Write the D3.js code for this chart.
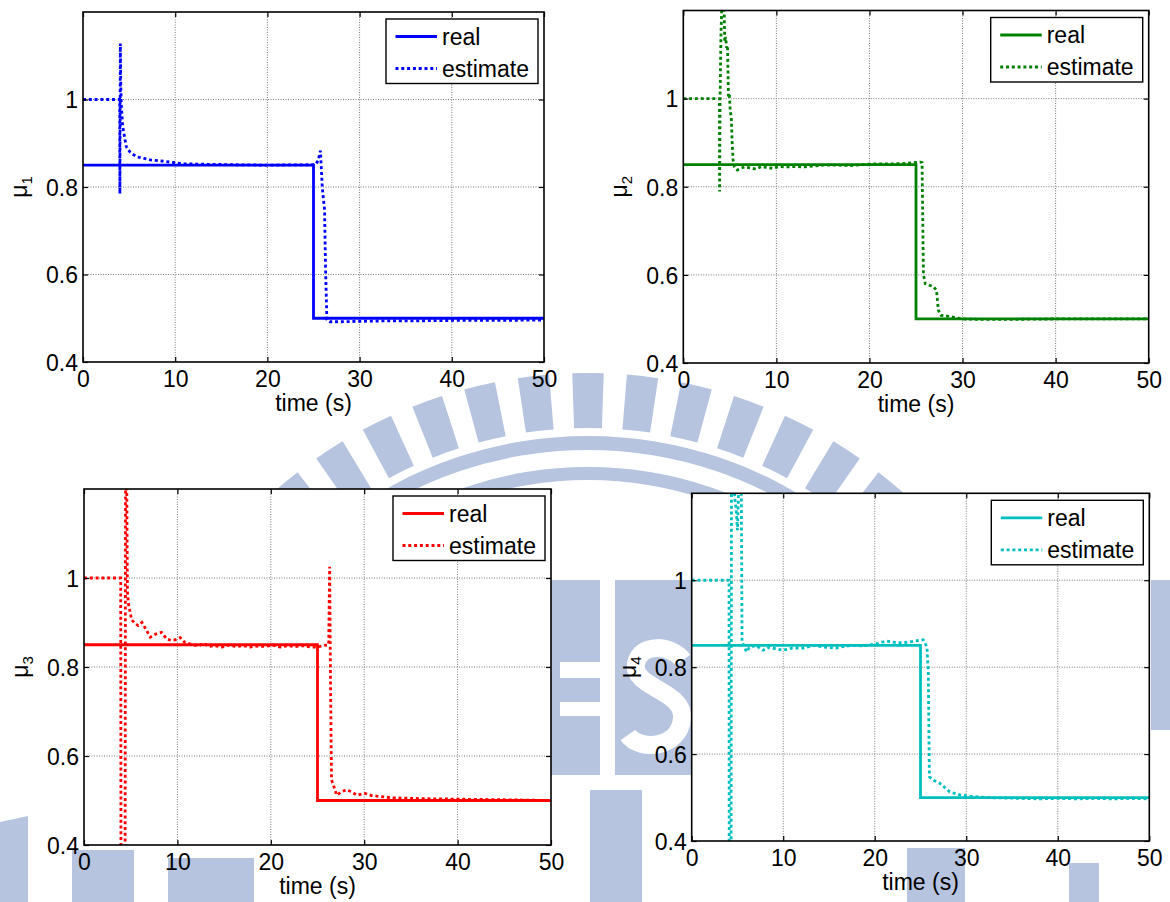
<!DOCTYPE html>
<html>
<head>
<meta charset="utf-8">
<script src="https://cdn.jsdelivr.net/npm/d3@7"></script>
<style>
  body { margin: 0; background: #fff; }
  svg { display: block; }
</style>
</head>
<body>
<svg id="fig" width="1170" height="902"></svg>
<script>
// ---- data -------------------------------------------------------------
const timeTicks = [0, 10, 20, 30, 40, 50];
const valueTicks = [0.4, 0.6, 0.8, 1];
const legendLabels = ["real", "estimate"];
const axisLabelX = "time (s)";

// true parameter: 0.85 until t = 25 s, then 0.5
const realTime  = [0, 25, 25, 50];
const realValue = [0.85, 0.85, 0.5, 0.5];

// estimated mu_1
const mu1Time = [0, 3.98, 4.0, 4.05, 4.1, 4.15, 4.3, 4.5, 4.7, 5.1, 5.4, 5.8, 6.5, 7.3, 8.3, 9.8, 11, 13, 16, 20, 25.2, 25.5, 25.75, 25.95, 26.05, 26.2, 26.3, 26.45, 26.8, 28, 30, 33, 36, 40, 45, 50];
const mu1Est  = [1, 1, 0.785, 1.128, 1.03, 0.99, 0.94, 0.915, 0.892, 0.88, 0.875, 0.869, 0.866, 0.862, 0.86, 0.856, 0.853, 0.852, 0.851, 0.85, 0.851, 0.86, 0.883, 0.8, 0.778, 0.748, 0.62, 0.497, 0.492, 0.492, 0.493, 0.494, 0.494, 0.495, 0.495, 0.496];

// estimated mu_2
const mu2Time = [0, 3.88, 3.9, 3.95, 4.05, 4.2, 4.35, 4.45, 4.55, 4.65, 4.75, 4.85, 4.95, 5.05, 5.15, 5.25, 5.35, 5.5, 5.8, 6.2, 6.6, 7.2, 7.8, 8.4, 9, 9.6, 10.3, 11, 12, 13, 14, 15, 16.5, 18, 19.5, 21, 22.5, 24, 25, 25.5, 25.65, 25.8, 26, 26.5, 26.9, 27.2, 27.4, 27.7, 28.5, 29.2, 30, 32, 35, 40, 45, 50];
const mu2Est  = [1, 1, 0.789, 1.0, 1.15, 1.25, 1.25, 1.13, 1.14, 1.115, 1.12, 1.005, 1.01, 0.97, 0.96, 0.9, 0.86, 0.845, 0.838, 0.842, 0.845, 0.843, 0.84, 0.846, 0.843, 0.842, 0.846, 0.845, 0.846, 0.845, 0.847, 0.849, 0.849, 0.848, 0.851, 0.852, 0.852, 0.853, 0.855, 0.856, 0.855, 0.6, 0.58, 0.576, 0.573, 0.565, 0.52, 0.508, 0.506, 0.503, 0.5, 0.499, 0.499, 0.5, 0.5, 0.5];

// estimated mu_3
const mu3Time = [0, 3.93, 3.96, 4.4, 4.45, 4.55, 4.65, 4.75, 5.1, 5.45, 5.8, 6.2, 6.7, 7.1, 7.5, 7.8, 8.3, 8.85, 9.3, 9.75, 10.3, 10.8, 11.5, 12.2, 12.8, 13.4, 14, 14.8, 15.5, 16.3, 17, 17.8, 18.6, 19.4, 20.2, 21, 21.8, 22.6, 23.4, 24.2, 25, 25.6, 26.2, 26.3, 26.4, 26.5, 26.7, 27.05, 27.6, 28.1, 28.6, 29.2, 30.1, 30.8, 31.3, 33, 36.6, 40.2, 43.7, 47, 50];
const mu3Est  = [1, 1, 0.3, 0.3, 1.3, 1.3, 0.97, 0.943, 0.906, 0.898, 0.893, 0.9, 0.882, 0.867, 0.872, 0.875, 0.878, 0.863, 0.86, 0.861, 0.866, 0.855, 0.851, 0.847, 0.853, 0.846, 0.848, 0.845, 0.849, 0.846, 0.848, 0.845, 0.847, 0.846, 0.849, 0.845, 0.848, 0.846, 0.848, 0.845, 0.845, 0.848, 0.85, 1.025, 0.75, 0.546, 0.535, 0.512, 0.52, 0.524, 0.52, 0.512, 0.516, 0.511, 0.51, 0.506, 0.504, 0.503, 0.502, 0.501, 0.5];

// estimated mu_4
const mu4Time = [0, 4.08, 4.1, 4.3, 4.35, 4.6, 4.7, 4.85, 5.0, 5.1, 5.2, 5.4, 5.5, 6.0, 6.3, 7.0, 7.5, 7.8, 8.5, 9.2, 10, 11, 12.2, 13.3, 14.5, 15.8, 16.7, 17.6, 18.5, 19.5, 20.4, 21.3, 22.2, 23.2, 24.3, 25.3, 25.7, 25.85, 25.97, 26.4, 27.1, 27.5, 28.2, 29.3, 30.4, 32, 34, 36, 38, 40, 42, 44, 46, 48, 50];
const mu4Est  = [1, 1, 0.3, 0.3, 1.3, 1.3, 1.19, 1.165, 1.115, 1.19, 1.3, 1.3, 0.858, 0.835, 0.845, 0.85, 0.843, 0.839, 0.846, 0.842, 0.839, 0.844, 0.844, 0.85, 0.846, 0.844, 0.848, 0.85, 0.849, 0.851, 0.855, 0.86, 0.857, 0.856, 0.86, 0.863, 0.847, 0.79, 0.548, 0.54, 0.533, 0.526, 0.513, 0.506, 0.503, 0.5, 0.499, 0.498, 0.497, 0.498, 0.497, 0.498, 0.497, 0.498, 0.497];

// ---- figure layout ----------------------------------------------------
const svg = d3.select("#fig");
const FONT = "Arial, 'Liberation Sans', sans-serif";
const FS = 23;
const DOTS = "3,2.8";

const panels = [
  { sub: "1", color: "#0000ff", time: mu1Time, est: mu1Est, box: { left: 83,    right: 544,    top: 12,    bottom: 362 } },
  { sub: "2", color: "#008000", time: mu2Time, est: mu2Est, box: { left: 683.3, right: 1148.7, top: 10.5,  bottom: 363 } },
  { sub: "3", color: "#ff0000", time: mu3Time, est: mu3Est, box: { left: 84,    right: 551,    top: 489,   bottom: 845 } },
  { sub: "4", color: "#00bfbf", time: mu4Time, est: mu4Est, box: { left: 691.7, right: 1149.3, top: 493.3, bottom: 841 } }
];

// ---- faint emblem in the page background --------------------------------
const emblem = svg.append("g").attr("fill", "#b6c4df");
const ecx = 588, ecy = 848;
const rayAngles = [-39.6, -33, -26.4, -19.8, -13.2, -6.6, 0, 6.6, 13.2, 19.8, 26.4, 33, 39.6];
const rad = Math.PI / 180;
const arcGen = d3.arc();
emblem.selectAll("path.ray").data(rayAngles).join("path")
  .attr("transform", `translate(${ecx},${ecy})`)
  .attr("d", a => arcGen({ innerRadius: 420, outerRadius: 475, startAngle: (a - 1.9) * rad, endAngle: (a + 1.9) * rad }));
[[398, 412], [368, 381]].forEach(([r0, r1]) => {
  emblem.append("path")
    .attr("transform", `translate(${ecx},${ecy})`)
    .attr("d", arcGen({ innerRadius: r0, outerRadius: r1, startAngle: -75 * rad, endAngle: 75 * rad }));
});
// letter blocks in the centre of the emblem
emblem.append("path").attr("d",
  "M548,580 H600 V775 H548 Z M560,662 H600 V678 H560 Z M560,702 H600 V716 H560 Z")
  .attr("fill-rule", "evenodd");
emblem.append("rect").attr("x", 615).attr("y", 580).attr("width", 90).attr("height", 195);
emblem.append("path")
  .attr("d", "M683,660 C672,645 640,642 636,664 C632,688 684,690 682,718 C680,748 640,752 628,735")
  .attr("fill", "none").attr("stroke", "#ffffff").attr("stroke-width", 18);
// lower parts of the emblem, seen below the plots
emblem.append("path").attr("d", "M0,822 L28,816 L28,902 L0,902 Z");
emblem.append("rect").attr("x", 72).attr("y", 850).attr("width", 62).attr("height", 52);
emblem.append("rect").attr("x", 168).attr("y", 858).attr("width", 86).attr("height", 44);
emblem.append("rect").attr("x", 590).attr("y", 790).attr("width", 52).attr("height", 112);
emblem.append("rect").attr("x", 907).attr("y", 848).attr("width", 58).attr("height", 54);
emblem.append("rect").attr("x", 1069).attr("y", 863).attr("width", 30).attr("height", 39);
emblem.append("rect").attr("x", 1151).attr("y", 580).attr("width", 19).attr("height", 150);

// ---- panels ---------------------------------------------------------------
panels.forEach((p, i) => {
  const b = p.box;
  const x = d3.scaleLinear().domain([0, 50]).range([b.left, b.right]);
  const y = d3.scaleLinear().domain([0.4, 1.2]).range([b.bottom, b.top]);
  const g = svg.append("g");

  // plot-area background
  g.append("rect")
    .attr("x", b.left).attr("y", b.top)
    .attr("width", b.right - b.left).attr("height", b.bottom - b.top)
    .attr("fill", "#fff");

  // grid
  g.append("g").selectAll("line").data(timeTicks.slice(1, -1)).join("line")
    .attr("x1", d => x(d)).attr("x2", d => x(d))
    .attr("y1", b.top).attr("y2", b.bottom)
    .attr("stroke", "#7a7a7a").attr("stroke-width", 1).attr("stroke-dasharray", "1,1.5");
  g.append("g").selectAll("line").data(valueTicks.slice(1)).join("line")
    .attr("y1", d => y(d)).attr("y2", d => y(d))
    .attr("x1", b.left).attr("x2", b.right)
    .attr("stroke", "#7a7a7a").attr("stroke-width", 1).attr("stroke-dasharray", "1,1.5");

  // clip region
  const clipId = "plotclip" + i;
  svg.append("clipPath").attr("id", clipId).append("rect")
    .attr("x", b.left).attr("y", b.top)
    .attr("width", b.right - b.left).attr("height", b.bottom - b.top);

  const line = d3.line().x(d => x(d[0])).y(d => y(d[1]));
  const curves = g.append("g").attr("clip-path", `url(#${clipId})`);
  curves.append("path").datum(d3.zip(realTime, realValue))
    .attr("d", line).attr("fill", "none")
    .attr("stroke", p.color).attr("stroke-width", 2.8);
  curves.append("path").datum(d3.zip(p.time, p.est))
    .attr("d", line).attr("fill", "none")
    .attr("stroke", p.color).attr("stroke-width", 2.8)
    .attr("stroke-dasharray", DOTS);

  // axes with inward ticks on all four sides
  const fmt = d3.format("~g");
  const axB = g.append("g").attr("transform", `translate(0,${b.bottom})`)
    .call(d3.axisBottom(x).tickValues(timeTicks).tickSize(-5).tickSizeOuter(0).tickPadding(9).tickFormat(fmt));
  const axT = g.append("g").attr("transform", `translate(0,${b.top})`)
    .call(d3.axisTop(x).tickValues(timeTicks).tickSize(-5).tickSizeOuter(0).tickFormat(""));
  const axL = g.append("g").attr("transform", `translate(${b.left},0)`)
    .call(d3.axisLeft(y).tickValues(valueTicks).tickSize(-5).tickSizeOuter(0).tickPadding(5).tickFormat(fmt));
  const axR = g.append("g").attr("transform", `translate(${b.right},0)`)
    .call(d3.axisRight(y).tickValues(valueTicks).tickSize(-5).tickSizeOuter(0).tickFormat(""));
  [axB, axT, axL, axR].forEach(a => {
    a.select(".domain").remove();
    a.selectAll(".tick line").attr("stroke", "#000").attr("stroke-width", 1.2);
    a.selectAll(".tick text").attr("fill", "#000").attr("font-family", FONT).attr("font-size", FS);
  });
  axL.selectAll(".tick text").attr("dy", "0.36em");

  // frame
  g.append("rect")
    .attr("x", b.left).attr("y", b.top)
    .attr("width", b.right - b.left).attr("height", b.bottom - b.top)
    .attr("fill", "none").attr("stroke", "#000").attr("stroke-width", 1.6);

  // axis labels
  g.append("text")
    .attr("x", (b.left + b.right) / 2).attr("y", b.bottom + 49)
    .attr("text-anchor", "middle").attr("font-family", FONT).attr("font-size", FS)
    .text(axisLabelX);
  const yl = g.append("text")
    .attr("transform", `translate(${b.left - 56},${(b.top + b.bottom) / 2}) rotate(-90)`)
    .attr("text-anchor", "middle").attr("font-family", FONT).attr("font-size", FS);
  yl.append("tspan").text("μ");
  yl.append("tspan").attr("dy", 5).attr("font-size", 15).text(p.sub);

  // legend
  const lw = 152, lh = 64.5;
  const lg = g.append("g").attr("transform", `translate(${b.right - 6 - lw},${b.top + 7})`);
  lg.append("rect").attr("width", lw).attr("height", lh)
    .attr("fill", "#fff").attr("stroke", "#000").attr("stroke-width", 1.4);
  legendLabels.forEach((lab, k) => {
    const ry = 17.5 + k * 32;
    lg.append("line").attr("x1", 9.5).attr("x2", 51).attr("y1", ry).attr("y2", ry)
      .attr("stroke", p.color).attr("stroke-width", 2.8)
      .attr("stroke-dasharray", k === 1 ? DOTS : null);
    lg.append("text").attr("x", 56).attr("y", ry + 8)
      .attr("font-family", FONT).attr("font-size", FS).text(lab);
  });
});
</script>
</body>
</html>
